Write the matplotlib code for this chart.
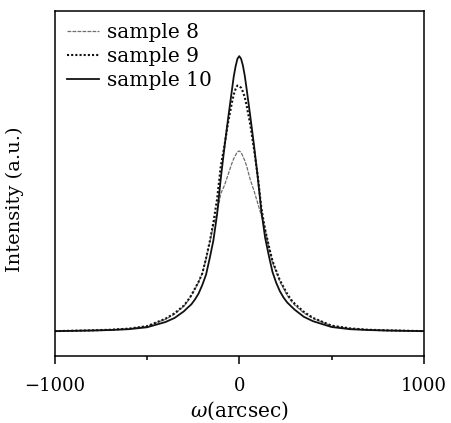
import numpy as np
import matplotlib
matplotlib.use("Agg")
import matplotlib.pyplot as plt
from matplotlib.ticker import FixedLocator

plt.rcParams.update({
    "font.family": "DejaVu Serif",
    "mathtext.fontset": "dejavuserif",
    "font.size": 13,
    "axes.linewidth": 1.1,
})

# ---- data (omega in arcsec, intensity normalised) ----
omega = [-1000, -800, -700, -600, -500, -400, -350, -300, -280, -260, -240, -220,
         -200, -180, -160, -140, -120, -100, -80, -60, -40, -30, -20, -10, 0,
         10, 20, 30, 40, 60, 80, 100, 120, 140, 160, 180, 200, 220, 240, 260, 280,
         300, 350, 400, 500, 600, 700, 800, 1000]

sample8 = [0.001, 0.003, 0.005, 0.008, 0.017, 0.043, 0.062, 0.090, 0.108, 0.128, 0.152, 0.178,
           0.210, 0.260, 0.320, 0.385, 0.430, 0.500, 0.530, 0.570, 0.610, 0.627, 0.640, 0.652, 0.655,
           0.650, 0.635, 0.620, 0.600, 0.550, 0.510, 0.465, 0.420, 0.370, 0.305, 0.250, 0.215, 0.180,
           0.155, 0.130, 0.110, 0.095, 0.066, 0.046, 0.019, 0.009, 0.005, 0.003, 0.001]

sample9 = [0.000, 0.003, 0.005, 0.009, 0.018, 0.045, 0.065, 0.093, 0.110, 0.130, 0.155, 0.180,
           0.210, 0.265, 0.325, 0.395, 0.480, 0.600, 0.675, 0.760, 0.830, 0.860, 0.880, 0.893, 0.890,
           0.885, 0.870, 0.850, 0.820, 0.750, 0.660, 0.565, 0.445, 0.370, 0.310, 0.255, 0.220, 0.185,
           0.160, 0.135, 0.115, 0.100, 0.070, 0.048, 0.020, 0.010, 0.005, 0.003, 0.000]

sample10 = [0.000, 0.002, 0.004, 0.007, 0.014, 0.033, 0.048, 0.072, 0.085, 0.097, 0.115, 0.137,
            0.168, 0.205, 0.265, 0.330, 0.425, 0.555, 0.670, 0.775, 0.875, 0.925, 0.962, 0.990, 1.000,
            0.990, 0.965, 0.928, 0.880, 0.780, 0.675, 0.560, 0.435, 0.340, 0.275, 0.215, 0.176, 0.145,
            0.122, 0.104, 0.091, 0.078, 0.052, 0.036, 0.015, 0.007, 0.004, 0.002, 0.000]

labels = ["sample 8", "sample 9", "sample 10"]
xticks = [-1000, 0, 1000]
xminor = [-500, 500]

fig = plt.figure(figsize=(4.51, 4.23), dpi=100)
ax = fig.add_axes([0.121, 0.158, 0.819, 0.816])

ax.plot(omega, sample8, color="#6e6e6e", lw=0.9, ls=(0, (3, 1)), label=labels[0])
ax.plot(omega, sample9, color="#111111", lw=1.5, ls=(0, (1, 1)), label=labels[1])
ax.plot(omega, sample10, color="#111111", lw=1.3, ls="-", label=labels[2])

ax.set_xlim(-1000, 1000)
ax.set_ylim(-0.091, 1.164)
ax.set_xticks(xticks)
ax.set_xticklabels(["\u22121000", "0", "1000"])
ax.xaxis.set_minor_locator(FixedLocator(xminor))
ax.tick_params(axis="x", which="major", direction="out", length=6, width=1.1, pad=9, labelsize=13)
ax.tick_params(axis="x", which="minor", direction="out", length=3, width=1.1)
ax.set_yticks([])

ax.set_xlabel(r"$\omega$(arcsec)", labelpad=3, fontsize=14.5)
ax.set_ylabel("Intensity (a.u.)", fontsize=14)
ax.yaxis.set_label_coords(-0.084, 0.455)

ax.legend(loc="upper left", frameon=False, handlelength=1.6, handletextpad=0.4,
          labelspacing=0.25, borderaxespad=0.2, fontsize=14.5)

fig.savefig("out.png", dpi=100)
